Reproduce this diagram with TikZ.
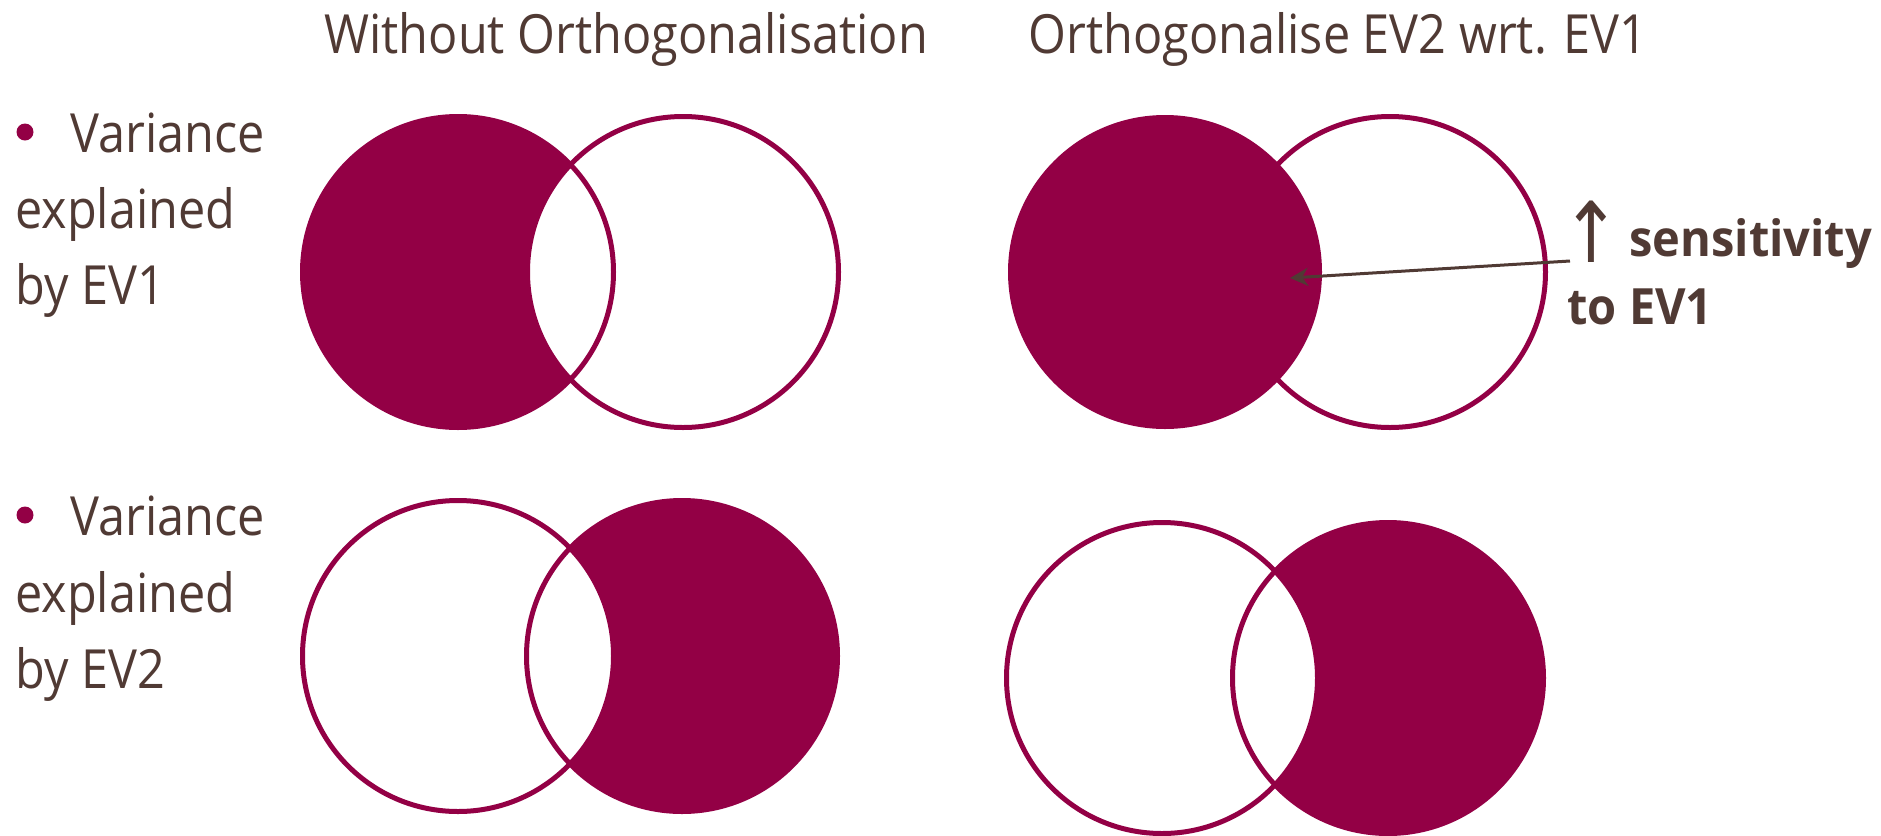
\documentclass[tikz,border=0pt]{standalone}
\usepackage{fontspec}
\setmainfont{Open Sans}[FakeStretch=0.9]
\newfontfamily\boldcond{Open Sans}[FakeStretch=0.94,UprightFont=* Bold]
\newfontfamily\symfont{DejaVu Sans}[FakeStretch=0.85]
\usetikzlibrary{arrows.meta}
\definecolor{mag}{RGB}{147,0,69}
\definecolor{brn}{RGB}{80,58,52}
\tikzset{
  lbl/.style={anchor=base west,inner sep=0pt,text=brn,font=\fontsize{27}{30}\selectfont},
  ttl/.style={anchor=base west,inner sep=0pt,text=brn,font=\fontsize{27}{30}\selectfont},
  bld/.style={anchor=base west,inner sep=0pt,text=brn,font=\boldcond\fontsize{25}{28}\selectfont},
  ring/.style={draw=mag,line width=2.5pt},
  bullet/.style={circle,fill=mag,inner sep=0pt,minimum size=8.5pt},
  pointer/.style={draw=brn,line width=1.5pt,-{Stealth[length=9pt,width=9pt]}}
}
\begin{document}
\begin{tikzpicture}[x=0.5pt,y=-0.5pt]
\useasboundingbox (0,0) rectangle (1881,836);
% titles
\node[ttl] (t1) at (324,53) {Without Orthogonalisation};
\node[ttl] (t2) at (1028,53) {Orthogonalise EV2 wrt. EV1};
% left labels
\node[bullet] (b1) at (25,132) {};
\node[lbl] (v1) at (70,152) {Variance};
\node[lbl] (e1) at (15,228) {explained};
\node[lbl] (y1) at (15,304) {by EV1};
\node[bullet] (b2) at (25,515) {};
\node[lbl] (v2) at (70,535) {Variance};
\node[lbl] (e2) at (15,612) {explained};
\node[lbl] (y2) at (15,688) {by EV2};
% top-left venn
\fill[mag] (458,272) circle (77.75pt);
\begin{scope}
  \clip (458,272) circle (77.75pt);
  \fill[white] (683,272) circle (77.75pt);
\end{scope}
\draw[ring] (458,272) circle (77.75pt) (683,272) circle (77.75pt);
% top-right venn
\draw[ring] (1390,272) circle (77.75pt);
\fill[mag] (1165,272) circle (78.5pt);
% bottom-left venn
\fill[mag] (682,656) circle (77.75pt);
\begin{scope}
  \clip (682,656) circle (77.75pt);
  \fill[white] (458,656) circle (77.75pt);
\end{scope}
\draw[ring] (458,656) circle (77.75pt) (682,656) circle (77.75pt);
% bottom-right venn
\fill[mag] (1388,678) circle (77.75pt);
\begin{scope}
  \clip (1388,678) circle (77.75pt);
  \fill[white] (1162,678) circle (77.75pt);
\end{scope}
\draw[ring] (1162,678) circle (77.75pt) (1388,678) circle (77.75pt);
% annotation
\node[anchor=base,inner sep=0pt,text=brn,font=\symfont\fontsize{42}{46}\selectfont] (up) at (1591,262) {↑};
\node[bld] (sens) at (1629,256) {sensitivity};
\node[bld] (to) at (1567,324) {to EV1};
\coordinate (start) at (1570,261);
\coordinate (tip) at (1290,278);
\draw[pointer] (start) -- (tip);
\end{tikzpicture}
\end{document}
